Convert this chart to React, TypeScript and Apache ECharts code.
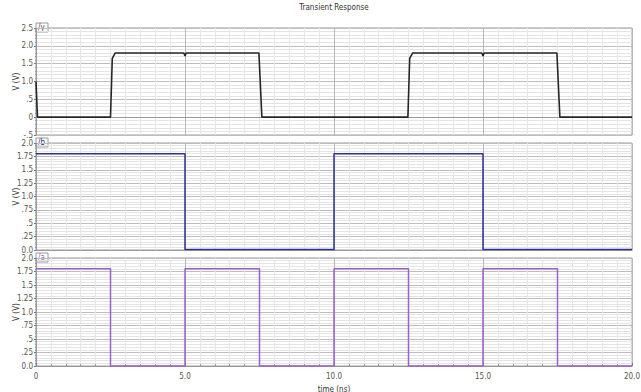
import React, { useEffect, useRef } from "react";
import * as echarts from "echarts";

const titleText = "Transient Response";
const xName = "time (ns)";
const yName = "V (V)";
const panelTags = ["/y", "/b", "/a"];

const xTickLabels = ["0", "5.0", "10.0", "15.0", "20.0"];
const yTopTickLabels = ["-.5", "0", ".5", "1.0", "1.5", "2.0", "2.5"];
const yLowTickLabels = ["0.0", ".25", ".5", ".75", "1.0", "1.25", "1.5", "1.75", "2.0"];

// /y : output
const yTime = [0, 0.05, 2.5, 2.56, 2.66, 4.96, 5.0, 5.04, 7.48, 7.58, 12.48, 12.54, 12.64, 14.96, 15.0, 15.04, 17.48, 17.58, 20];
const yVolt = [1.0, 0.0, 0.0, 1.65, 1.8, 1.8, 1.72, 1.8, 1.8, 0.0, 0.0, 1.65, 1.8, 1.8, 1.72, 1.8, 1.8, 0.0, 0.0];

// /b : input b
const bTime = [0, 5.0, 5.0, 10.0, 10.0, 15.0, 15.0, 20];
const bVolt = [1.8, 1.8, 0.01, 0.01, 1.8, 1.8, 0.01, 0.01];

// /a : input a
const aTime = [0, 2.5, 2.5, 5.0, 5.0, 7.5, 7.5, 10.0, 10.0, 12.5, 12.5, 15.0, 15.0, 17.5, 17.5, 20];
const aVolt = [1.8, 1.8, 0.0, 0.0, 1.8, 1.8, 0.0, 0.0, 1.8, 1.8, 0.0, 0.0, 1.8, 1.8, 0.0, 0.0];

const pair = (t: number[], v: number[]) => t.map((x, i) => [x, v[i]]);

const FONT = "'Liberation Sans Narrow', 'DejaVu Sans Condensed', 'DejaVu Sans', sans-serif";
const LABEL_COLOR = "#555";

export default function App() {
  const ref = useRef<HTMLDivElement>(null);
  useEffect(() => {
    document.body.style.margin = "0";
    if (!ref.current) return;
    const chart = echarts.init(ref.current, null, { renderer: "svg" });

    const grids = [
      { left: 36, right: 9, top: 28, height: 107 },
      { left: 36, right: 9, top: 143, height: 107 },
      { left: 36, right: 9, top: 258, height: 108 },
    ].map((g) => ({
      ...g,
      show: true,
      containLabel: false,
      outerBoundsMode: "none",
      borderColor: "#9a9a9a",
      borderWidth: 1,
      backgroundColor: "#fff",
    }));

    const xAxes = [0, 1, 2].map((i) => ({
      type: "value",
      gridIndex: i,
      min: 0,
      max: 20,
      interval: 5,
      name: i === 2 ? xName : "",
      nameLocation: "middle",
      nameGap: 19,
      nameMoveOverlap: false,
      nameTextStyle: { fontSize: 8, color: "#333", fontFamily: FONT },
      axisLine: { show: true, lineStyle: { color: "#9a9a9a" } },
      axisTick: { show: i === 2, inside: true, length: 3, lineStyle: { color: "#777" } },
      minorTick: { show: i === 2, splitNumber: 10, length: 2, lineStyle: { color: "#999" } },
      axisLabel: {
        show: i === 2,
        fontSize: 8,
        color: LABEL_COLOR,
        fontFamily: FONT,
        margin: 6,
        formatter: (v: number) => xTickLabels[Math.round(v / 5)] ?? "",
      },
      splitLine: { show: true, lineStyle: { color: "#b8b8b8", width: 1 } },
      minorSplitLine: { show: true, lineStyle: { color: "#e6e6e6", width: 1 } },
    }));

    const yAxes = [0, 1, 2].map((i) => {
      const top = i === 0;
      return {
        type: "value",
        gridIndex: i,
        min: top ? -0.5 : 0,
        max: top ? 2.5 : 2.0,
        interval: top ? 0.5 : 0.25,
        name: yName,
        nameLocation: "middle",
        nameGap: 16,
        nameRotate: 90,
        nameMoveOverlap: false,
        nameTextStyle: { fontSize: 8, color: "#333", fontFamily: FONT },
        axisLine: { show: true, lineStyle: { color: "#9a9a9a" } },
        axisTick: { show: true, length: 2, lineStyle: { color: "#777" } },
        minorTick: { show: true, splitNumber: 5, length: 1, lineStyle: { color: "#999" } },
        axisLabel: {
          fontSize: 8,
          color: LABEL_COLOR,
          fontFamily: FONT,
          margin: 3,
          formatter: (v: number) =>
            top
              ? yTopTickLabels[Math.round((v + 0.5) / 0.5)] ?? ""
              : yLowTickLabels[Math.round(v / 0.25)] ?? "",
        },
        splitLine: { show: true, lineStyle: { color: "#bdbdbd", width: 1 } },
        minorSplitLine: { show: true, lineStyle: { color: "#e4e4e4", width: 1 } },
      };
    });

    const lineSeries = (i: number, data: number[][], color: string, width: number) => ({
      type: "line",
      xAxisIndex: i,
      yAxisIndex: i,
      data,
      showSymbol: false,
      symbol: "none",
      lineStyle: { color, width },
      z: 5,
    });

    const tagGraphics = grids.map((g, i) => ({
      type: "group",
      x: 36,
      y: g.top - 5,
      z: 100,
      children: [
        { type: "rect", shape: { x: 0, y: 0, width: 12, height: 9 }, style: { fill: "#fff", stroke: "#9a9a9a", lineWidth: 1 } },
        {
          type: "text",
          x: 2,
          y: 0.5,
          style: {
            text: panelTags[i],
            fontSize: 8,
            fontFamily: FONT,
            fill: ["#444", "#2e3192", "#9a5fd0"][i],
          },
        },
      ],
    }));

    chart.setOption({
      animation: false,
      backgroundColor: "#fff",
      grid: grids,
      xAxis: xAxes,
      yAxis: yAxes,
      series: [
        lineSeries(0, pair(yTime, yVolt), "#262626", 1.6),
        lineSeries(1, pair(bTime, bVolt), "#2e3192", 1.5),
        lineSeries(2, pair(aTime, aVolt), "#9a5fd0", 1.5),
      ],
      graphic: [
        {
          type: "text",
          x: 334,
          y: 3,
          style: { text: titleText, fontSize: 8, fontFamily: FONT, fill: "#333", textAlign: "center" },
        },
        ...tagGraphics,
      ],
    });
    return () => chart.dispose();
  }, []);
  return <div ref={ref} style={{ width: 641, height: 392 }} />;
}
